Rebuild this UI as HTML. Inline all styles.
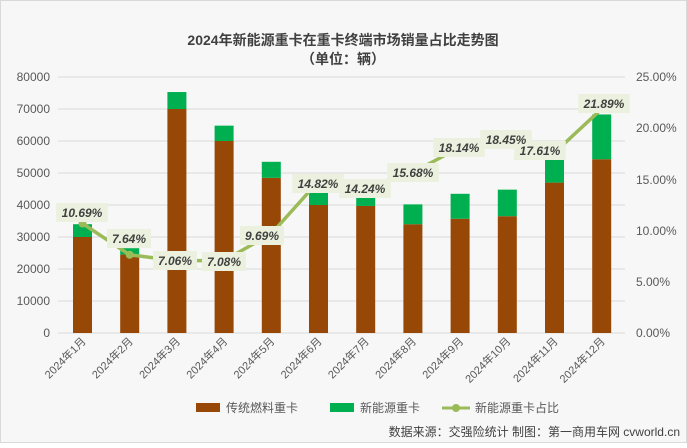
<!DOCTYPE html>
<html><head><meta charset="utf-8"><style>
body{margin:0;background:#fff}
svg text{font-family:"Liberation Sans","Noto Sans CJK SC",sans-serif}
</style></head><body>
<svg width="687" height="443" xmlns="http://www.w3.org/2000/svg">
<rect x="0.5" y="0.5" width="686" height="442" fill="#f7f7f7" stroke="#d9d9d9"/>
<text x="343" y="45" text-anchor="middle" font-size="14" font-weight="bold" fill="#404040">2024年新能源重卡在重卡终端市场销量占比走势图</text>
<text x="343" y="64" text-anchor="middle" font-size="14" font-weight="bold" fill="#404040">（单位：辆）</text>
<g stroke="#d9d9d9" stroke-width="1">
<line x1="58" x2="625" y1="77" y2="77"/><line x1="58" x2="625" y1="109" y2="109"/><line x1="58" x2="625" y1="141" y2="141"/><line x1="58" x2="625" y1="173" y2="173"/><line x1="58" x2="625" y1="205" y2="205"/><line x1="58" x2="625" y1="237" y2="237"/><line x1="58" x2="625" y1="269" y2="269"/><line x1="58" x2="625" y1="301" y2="301"/><line x1="58" x2="625" y1="333" y2="333"/>
</g>
<g font-size="12" fill="#595959" text-anchor="end">
<text x="50" y="81">80000</text><text x="50" y="113">70000</text><text x="50" y="145">60000</text><text x="50" y="177">50000</text><text x="50" y="209">40000</text><text x="50" y="241">30000</text><text x="50" y="273">20000</text><text x="50" y="305">10000</text><text x="50" y="337">0</text>
</g>
<g font-size="12" fill="#595959">
<text x="636" y="81">25.00%</text><text x="636" y="132">20.00%</text><text x="636" y="184">15.00%</text><text x="636" y="235">10.00%</text><text x="636" y="286">5.00%</text><text x="636" y="337">0.00%</text>
</g>
<g fill="#974706">
<rect x="73" y="237" width="19" height="96"/>
<rect x="120.2" y="254.6" width="19" height="78.4"/>
<rect x="167.4" y="109" width="19" height="224"/>
<rect x="214.6" y="141" width="19" height="192"/>
<rect x="261.8" y="177.8" width="19" height="155.2"/>
<rect x="309" y="205" width="19" height="128"/>
<rect x="356.2" y="205.96" width="19" height="127.04"/>
<rect x="403.4" y="224.2" width="19" height="108.8"/>
<rect x="450.6" y="218.76" width="19" height="114.24"/>
<rect x="497.8" y="216.2" width="19" height="116.8"/>
<rect x="545" y="182.6" width="19" height="150.4"/>
<rect x="592.2" y="159.24" width="19" height="173.76"/>
</g>
<g fill="#00b050">
<rect x="73" y="224.2" width="19" height="12.8"/>
<rect x="120.2" y="248.2" width="19" height="6.4"/>
<rect x="167.4" y="92.04" width="19" height="16.96"/>
<rect x="214.6" y="125.64" width="19" height="15.36"/>
<rect x="261.8" y="161.8" width="19" height="16"/>
<rect x="309" y="192.2" width="19" height="12.8"/>
<rect x="356.2" y="196.68" width="19" height="9.28"/>
<rect x="403.4" y="204.36" width="19" height="19.84"/>
<rect x="450.6" y="193.8" width="19" height="24.96"/>
<rect x="497.8" y="189.64" width="19" height="26.56"/>
<rect x="545" y="159.24" width="19" height="23.36"/>
<rect x="592.2" y="114.44" width="19" height="44.8"/>
</g>
<polyline points="82.5,223.5 129.7,254.8 176.9,260.7 224.1,260.5 271.3,233.8 318.5,181.2 365.7,187.2 412.9,172.4 460.1,147.2 507.3,144.1 554.5,152.7 601.7,108.8" fill="none" stroke="#9bbb59" stroke-width="3.5"/>
<g fill="#9bbb59">
<circle cx="82.5" cy="223.5" r="4"/><circle cx="129.7" cy="254.8" r="4"/><circle cx="176.9" cy="260.7" r="4"/><circle cx="224.1" cy="260.5" r="4"/><circle cx="271.3" cy="233.8" r="4"/><circle cx="318.5" cy="181.2" r="4"/><circle cx="365.7" cy="187.2" r="4"/><circle cx="412.9" cy="172.4" r="4"/><circle cx="460.1" cy="147.2" r="4"/><circle cx="507.3" cy="144.1" r="4"/><circle cx="554.5" cy="152.7" r="4"/><circle cx="601.7" cy="108.8" r="4"/>
</g>
<g fill="#ebf1de">
<rect x="56.2" y="203" width="51.6" height="19"/>
<rect x="107" y="229" width="44" height="19"/>
<rect x="153" y="251" width="44" height="19"/>
<rect x="202" y="252" width="44" height="19"/>
<rect x="240" y="226" width="44" height="19"/>
<rect x="292.2" y="174" width="51.6" height="19"/>
<rect x="339.2" y="179" width="51.6" height="19"/>
<rect x="387.2" y="163" width="51.6" height="19"/>
<rect x="433.2" y="138" width="51.6" height="19"/>
<rect x="480.2" y="130" width="51.6" height="19"/>
<rect x="514.2" y="141" width="51.6" height="19"/>
<rect x="578.2" y="94" width="51.6" height="19"/>
</g>
<g font-size="12" font-weight="bold" font-style="italic" fill="#404040" text-anchor="middle">
<text x="82" y="217">10.69%</text><text x="129" y="243">7.64%</text><text x="175" y="265">7.06%</text><text x="224" y="266">7.08%</text><text x="262" y="240">9.69%</text><text x="318" y="188">14.82%</text><text x="365" y="193">14.24%</text><text x="413" y="177">15.68%</text><text x="459" y="152">18.14%</text><text x="506" y="144">18.45%</text><text x="540" y="155">17.61%</text><text x="604" y="108">21.89%</text>
</g>
<g font-size="11" fill="#595959" text-anchor="end">
<text transform="translate(86.5,342) rotate(-45)">2024年1月</text>
<text transform="translate(133.7,342) rotate(-45)">2024年2月</text>
<text transform="translate(180.9,342) rotate(-45)">2024年3月</text>
<text transform="translate(228.1,342) rotate(-45)">2024年4月</text>
<text transform="translate(275.3,342) rotate(-45)">2024年5月</text>
<text transform="translate(322.5,342) rotate(-45)">2024年6月</text>
<text transform="translate(369.7,342) rotate(-45)">2024年7月</text>
<text transform="translate(416.9,342) rotate(-45)">2024年8月</text>
<text transform="translate(464.1,342) rotate(-45)">2024年9月</text>
<text transform="translate(511.3,342) rotate(-45)">2024年10月</text>
<text transform="translate(558.5,342) rotate(-45)">2024年11月</text>
<text transform="translate(605.7,342) rotate(-45)">2024年12月</text>
</g>
<rect x="196" y="403" width="24" height="9" fill="#974706"/>
<text x="226" y="412" font-size="12" fill="#595959">传统燃料重卡</text>
<rect x="330" y="403" width="24" height="9" fill="#00b050"/>
<text x="360" y="412" font-size="12" fill="#595959">新能源重卡</text>
<line x1="442" x2="470" y1="408" y2="408" stroke="#9bbb59" stroke-width="3"/>
<circle cx="456" cy="408" r="4" fill="#9bbb59"/>
<text x="475" y="412" font-size="12" fill="#595959">新能源重卡占比</text>
<text x="680" y="436" text-anchor="end" font-size="12" fill="#404040">数据来源：交强险统计  制图：第一商用车网 cvworld.cn</text>
</svg>
</body></html>
